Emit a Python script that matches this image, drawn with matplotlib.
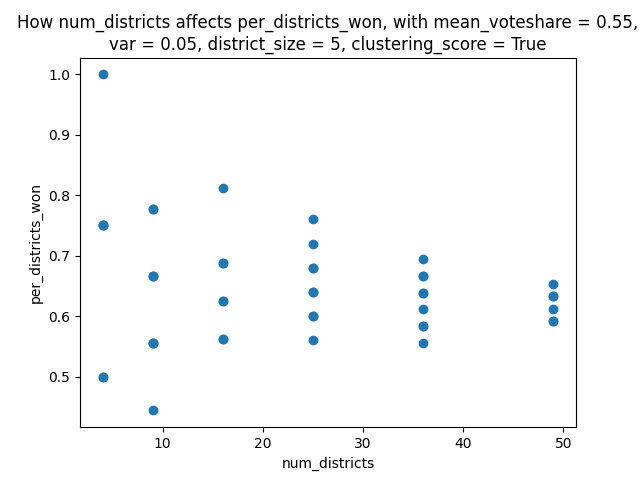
import matplotlib
matplotlib.use("Agg")
import matplotlib.pyplot as plt

# repeated trials give stacked (overlapping) points
num_districts = [4, 4, 4, 4, 4, 4,
                 9, 9, 9, 9, 9, 9, 9, 9, 9,
                 16, 16, 16, 16, 16, 16, 16,
                 25, 25, 25, 25, 25, 25, 25, 25, 25,
                 36, 36, 36, 36, 36, 36, 36, 36, 36,
                 49, 49, 49, 49, 49, 49]
per_districts_won = [0.5, 0.5, 0.75, 0.75, 0.75, 1.0,
                     0.444, 0.556, 0.556, 0.556, 0.667, 0.667, 0.667, 0.778, 0.778,
                     0.5625, 0.5625, 0.625, 0.625, 0.6875, 0.6875, 0.8125,
                     0.56, 0.60, 0.60, 0.64, 0.64, 0.68, 0.68, 0.72, 0.76,
                     0.556, 0.583, 0.583, 0.611, 0.639, 0.639, 0.667, 0.667, 0.694,
                     0.592, 0.592, 0.612, 0.633, 0.633, 0.653]

fig, ax = plt.subplots(figsize=(6.4, 4.8), dpi=100)
ax.scatter(num_districts, per_districts_won)
ax.set_xlabel("num_districts")
ax.set_ylabel("per_districts_won")
ax.set_title("How num_districts affects per_districts_won, with mean_voteshare = 0.55,\n"
             "var = 0.05, district_size = 5, clustering_score = True")
fig.savefig("out.png", dpi=100)
